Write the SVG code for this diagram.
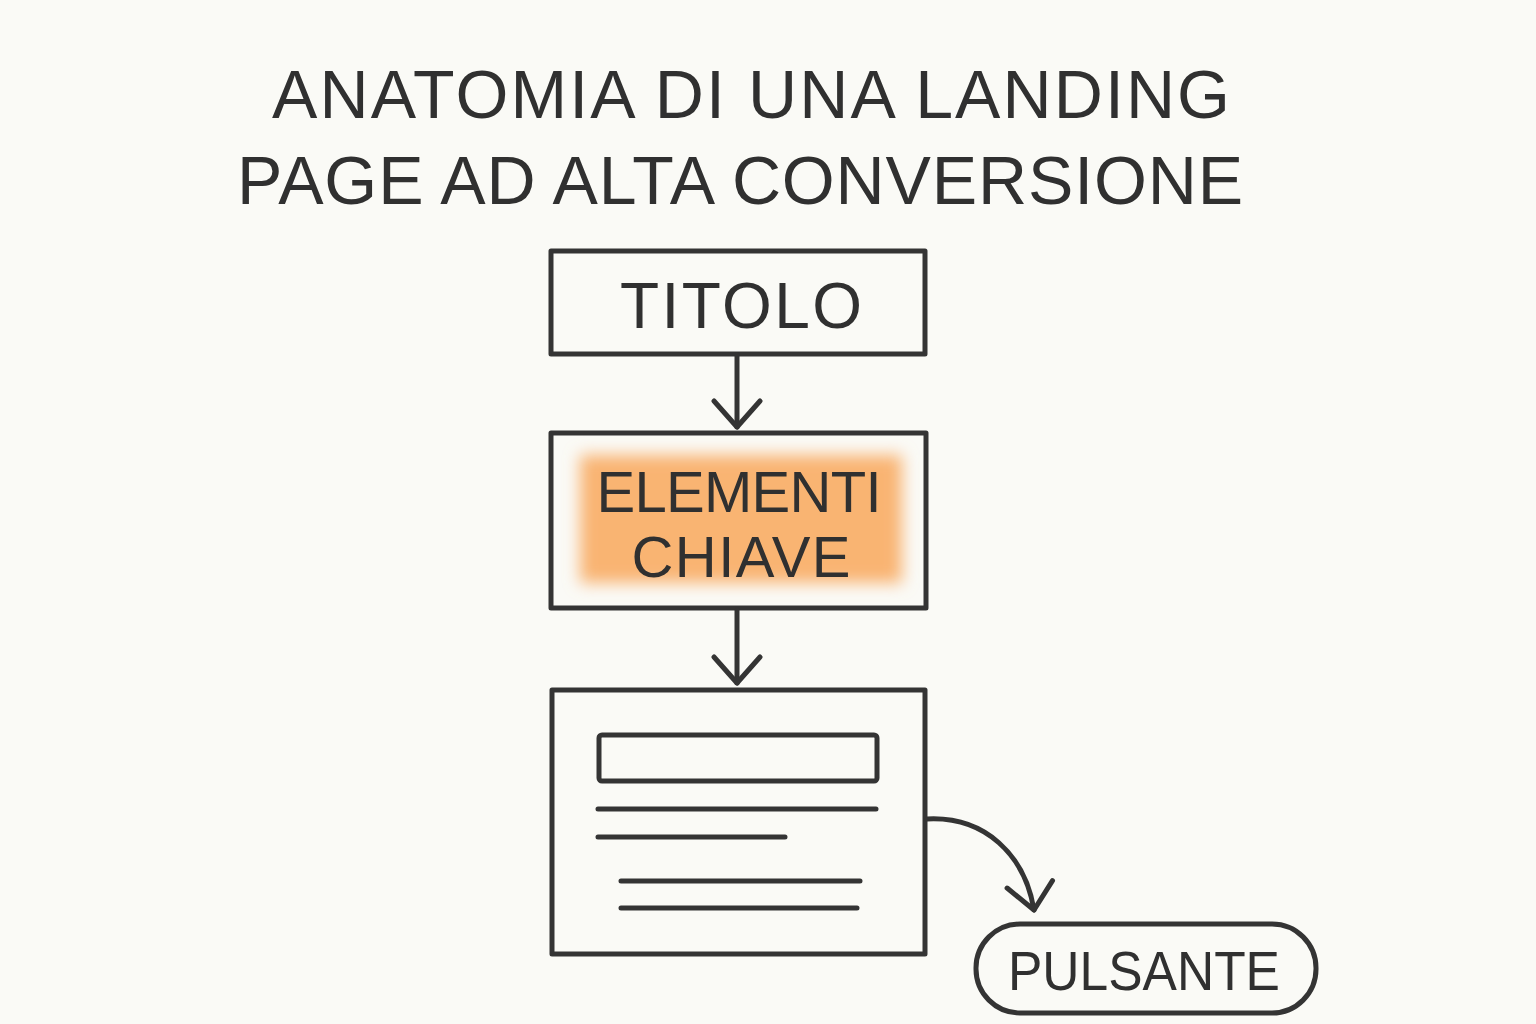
<svg xmlns="http://www.w3.org/2000/svg" width="1536" height="1024" viewBox="0 0 1536 1024">
<defs>
<style>
.ln{fill:none;stroke:#343434;stroke-width:5;stroke-linecap:round;stroke-linejoin:round}
.tx{font-family:"Liberation Sans","DejaVu Sans",Arial,sans-serif;fill:#303030;text-anchor:middle}
</style>
<filter id="glow" x="-20%" y="-20%" width="140%" height="140%"><feGaussianBlur stdDeviation="8"/></filter>
<marker id="ah" viewBox="0 0 34 52" refX="30" refY="26" markerWidth="34" markerHeight="52" markerUnits="userSpaceOnUse" orient="auto">
<path d="M4 3 L30 26 L4 49" fill="none" stroke="#343434" stroke-width="5" stroke-linecap="round" stroke-linejoin="round"/>
</marker>
</defs>
<rect width="1536" height="1024" fill="#fafaf6"/>
<g id="title">
<text class="tx" x="751" y="118" font-size="68" textLength="958" lengthAdjust="spacing">ANATOMIA DI UNA LANDING</text>
<text class="tx" x="740" y="204" font-size="68" textLength="1006" lengthAdjust="spacing">PAGE AD ALTA CONVERSIONE</text>
</g>
<g id="titolo">
<rect class="ln" x="551" y="251" width="374" height="103"/>
<text class="tx" x="741" y="328" font-size="64" textLength="242" lengthAdjust="spacing">TITOLO</text>
</g>
<g id="elementi">
<rect x="580" y="455" width="322" height="128" fill="#f9b472" filter="url(#glow)"/>
<rect class="ln" x="551" y="433" width="375" height="175"/>
<text class="tx" x="739" y="512" font-size="58" textLength="285" lengthAdjust="spacing">ELEMENTI</text>
<text class="tx" x="741" y="577" font-size="58" textLength="219" lengthAdjust="spacing">CHIAVE</text>
</g>
<g id="pagina">
<rect class="ln" x="552" y="690" width="373" height="264"/>
<rect class="ln" x="599" y="735" width="278" height="46" rx="3"/>
<path class="ln" d="M598 809 H876 M598 837 H785 M621 881 H860 M621 908 H857"/>
</g>
<g id="pulsante">
<rect class="ln" x="976" y="924" width="340" height="89" rx="44"/>
<text class="tx" x="1144" y="990" font-size="55" textLength="272" lengthAdjust="spacingAndGlyphs">PULSANTE</text>
</g>
<g id="connectors">
<path class="ln" d="M737 355 V427" marker-end="url(#ah)"/>
<path class="ln" d="M737 610 V683" marker-end="url(#ah)"/>
<path class="ln" d="M927 819 C985 816 1025 855 1034 910" marker-end="url(#ah)"/>
</g>
</svg>
